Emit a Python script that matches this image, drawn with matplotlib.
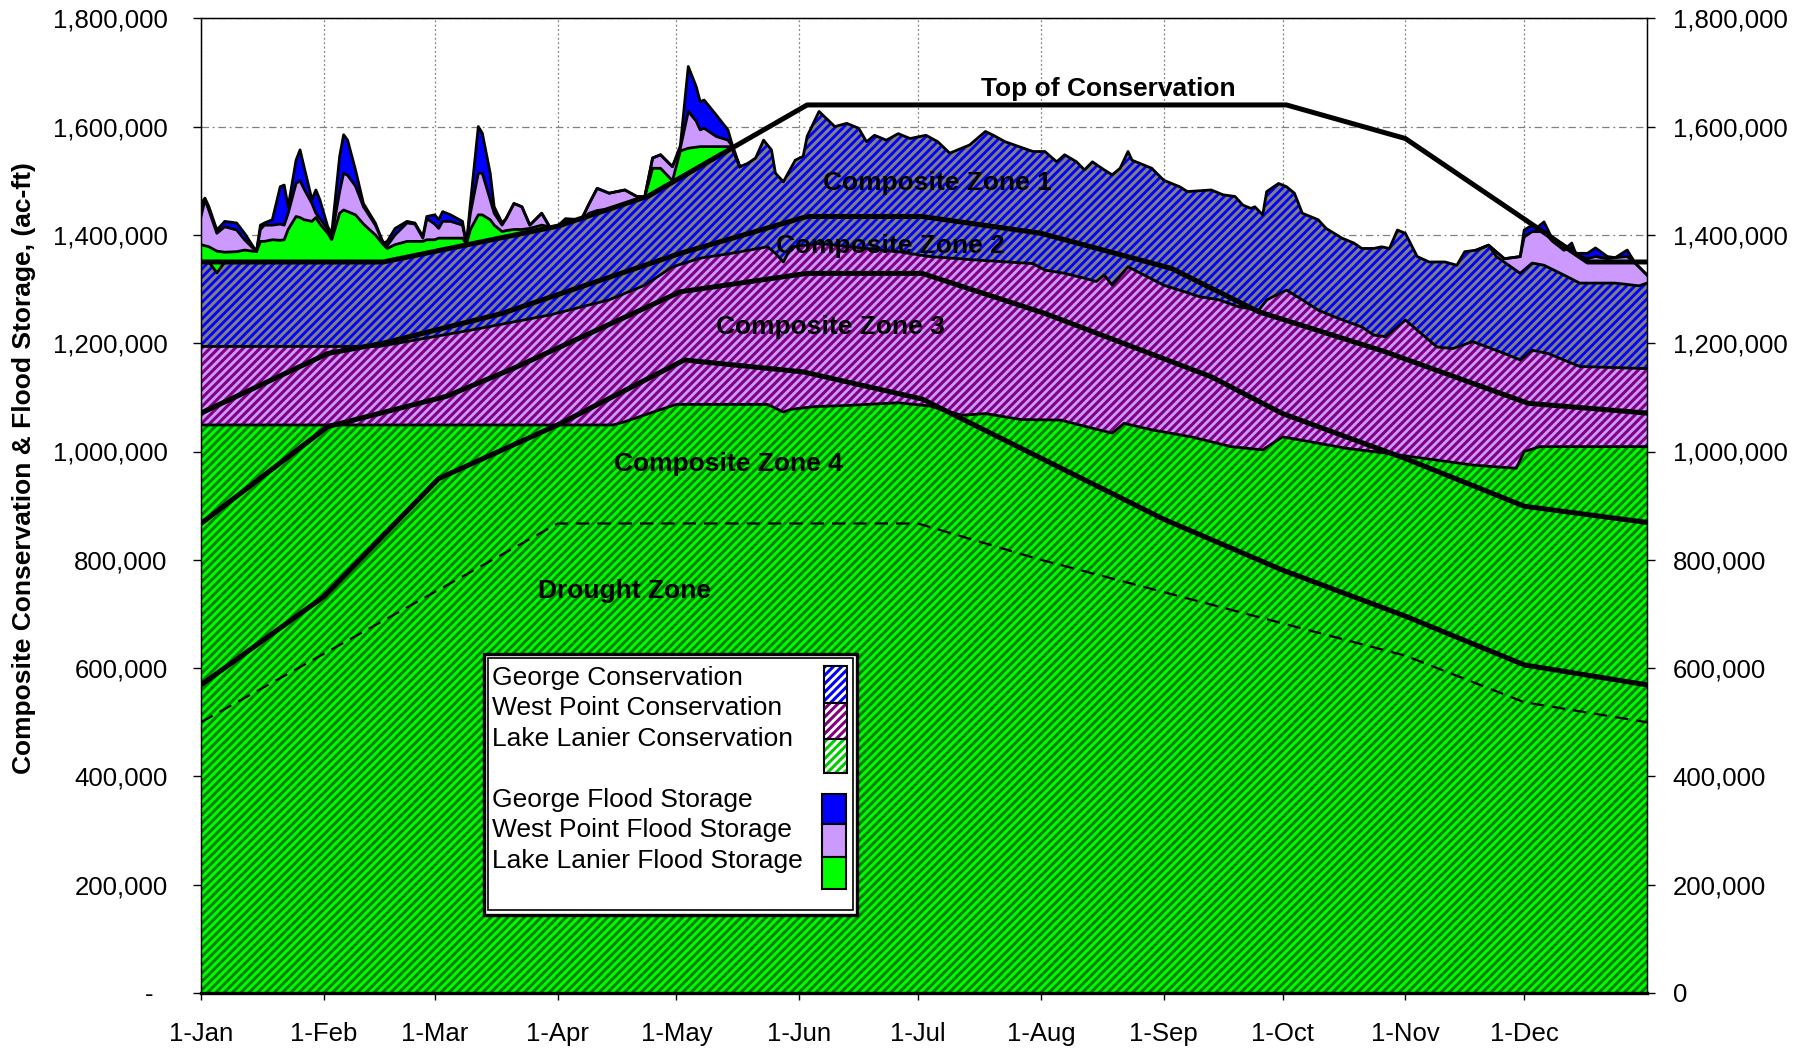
# -*- coding:utf-8 -*-
"""
Composite conservation & flood storage (George, West Point, Lake Lanier)
with rule-curve zones, drawn with matplotlib
"""
import numpy as np
import matplotlib

matplotlib.use("Agg")
import matplotlib.pyplot as plt
from matplotlib.patches import Rectangle

plt.rcParams["font.family"] = ["Liberation Sans", "DejaVu Sans"]
plt.rcParams["hatch.linewidth"] = 2.2

W, H = 1812, 1051

# x = day of year (1-Jan = 0), storage values in 1000 ac-ft
month_days = [0, 31, 59, 90, 120, 151, 181, 212, 243, 273, 304, 334]
month_labels = ["1-Jan", "1-Feb", "1-Mar", "1-Apr", "1-May", "1-Jun",
                "1-Jul", "1-Aug", "1-Sep", "1-Oct", "1-Nov", "1-Dec"]
y_ticks = [0, 200, 400, 600, 800, 1000, 1200, 1400, 1600, 1800]

# conservation storage, stacked tops
lanier_cons_days = [0, 104, 107, 115, 120, 143, 147, 149, 155, 163, 176, 184, 192, 198, 207,
                    217, 225, 230, 233, 240, 250, 260, 268, 273, 280, 289, 299, 309, 321, 332,
                    334, 338, 365]
lanier_cons_top = [1049, 1049, 1055, 1075, 1087, 1087, 1073, 1078, 1083, 1085, 1090, 1084, 1067,
                   1070, 1059, 1058, 1043, 1034, 1052, 1040, 1027, 1009, 1003, 1027, 1018, 1006,
                   997, 987, 975, 969, 1000, 1009, 1009]

wp_cons_days = [0, 45, 68, 88, 103, 112, 119, 126, 134, 143, 145, 147, 149, 156, 164, 176, 184,
                195, 210, 213, 218, 223, 226, 228, 230, 234, 238, 243, 247, 252, 257, 262, 267,
                269, 274, 278, 282, 287, 293, 296, 299, 304, 307, 312, 316, 321, 329, 333, 336,
                340, 348, 365]
wp_cons_top = [1194, 1194, 1224, 1252, 1280, 1307, 1341, 1357, 1366, 1378, 1366, 1350, 1378, 1384,
               1378, 1369, 1360, 1354, 1347, 1335, 1329, 1320, 1314, 1326, 1307, 1341, 1326, 1307,
               1298, 1286, 1280, 1267, 1261, 1280, 1298, 1280, 1261, 1246, 1230, 1215, 1212, 1243,
               1224, 1193, 1190, 1203, 1181, 1169, 1187, 1181, 1157, 1153]

george_cons_days = [0, 2, 4, 6, 46, 67, 90, 113, 134, 136, 138, 140, 142, 144, 145, 147, 150, 152,
                    153, 156, 160, 163, 166, 168, 170, 173, 176, 179, 183, 186, 189, 191, 194, 198,
                    200, 203, 210, 213, 216, 218, 221, 223, 225, 228, 230, 232, 234, 235, 240, 243,
                    247, 249, 255, 258, 261, 263, 265, 266, 268, 269, 272, 274, 276, 278, 282, 284,
                    288, 291, 293, 296, 298, 300, 302, 304, 307, 310, 314, 317, 319, 322, 325, 327,
                    333, 336, 339, 344, 348, 357, 363, 365]
george_cons_top = [1350, 1350, 1330, 1350, 1350, 1382, 1416, 1472, 1560, 1526, 1532, 1542, 1575,
                   1557, 1514, 1498, 1538, 1545, 1582, 1628, 1600, 1606, 1597, 1572, 1584, 1575,
                   1587, 1578, 1584, 1572, 1551, 1557, 1566, 1591, 1584, 1572, 1554, 1554, 1535,
                   1548, 1535, 1520, 1535, 1520, 1511, 1523, 1554, 1538, 1523, 1501, 1489, 1480,
                   1483, 1474, 1471, 1455, 1449, 1452, 1437, 1480, 1495, 1489, 1477, 1440, 1428,
                   1412, 1394, 1385, 1375, 1375, 1378, 1375, 1409, 1403, 1360, 1350, 1350, 1344,
                   1369, 1372, 1381, 1360, 1329, 1348, 1344, 1326, 1311, 1311, 1306, 1311]

# flood storage (stacked tops), winter/spring
spring_days = [0, 1, 2, 4, 6, 9, 11, 14, 15, 16, 18, 20, 21, 22, 24, 25, 26, 28, 29, 30, 32, 33,
               35, 36, 37, 39, 41, 44, 46, 47, 49, 52, 54, 56, 57, 59, 60, 61, 63, 66, 67, 68, 70,
               71, 73, 74, 76, 77, 79, 81, 83, 86, 88, 90, 92, 96, 98, 100, 103, 107, 110, 112,
               114, 116, 119, 121, 123, 125, 126, 127, 130, 133, 134, 136]
lanier_flood_top = [1382, 1380, 1378, 1370, 1368, 1369, 1372, 1369, 1388, 1388, 1391, 1390, 1391,
                    1410, 1434, 1432, 1428, 1425, 1432, 1420, 1403, 1391, 1440, 1446, 1443, 1437,
                    1420, 1400, 1382, 1375, 1382, 1388, 1388, 1388, 1391, 1391, 1394, 1394, 1394,
                    1394, 1383, 1410, 1437, 1437, 1428, 1418, 1406, 1408, 1410, 1410, 1412, 1418,
                    1415, 1416, 1425, 1428, 1440, 1445, 1448, 1458, 1466, 1470, 1523, 1523, 1500,
                    1555, 1560, 1562, 1563, 1563, 1563, 1563, 1563, 1526]
wp_flood_top = [1434, 1465, 1445, 1403, 1415, 1409, 1391, 1369, 1410, 1418, 1418, 1420, 1418, 1440,
                1495, 1500, 1485, 1458, 1440, 1430, 1410, 1397, 1480, 1514, 1510, 1490, 1452, 1418,
                1385, 1380, 1400, 1422, 1420, 1394, 1430, 1420, 1412, 1425, 1425, 1418, 1383, 1440,
                1514, 1514, 1465, 1440, 1418, 1430, 1458, 1452, 1418, 1440, 1415, 1416, 1428, 1428,
                1458, 1486, 1477, 1483, 1471, 1470, 1542, 1548, 1526, 1560, 1628, 1610, 1594, 1597,
                1582, 1575, 1565, 1526]
george_flood_top = [1458, 1468, 1452, 1409, 1425, 1422, 1403, 1369, 1418, 1422, 1428, 1489, 1492,
                    1452, 1538, 1557, 1526, 1465, 1483, 1465, 1415, 1403, 1545, 1585, 1575, 1520,
                    1458, 1422, 1385, 1388, 1412, 1425, 1422, 1397, 1434, 1437, 1428, 1443, 1437,
                    1425, 1383, 1458, 1600, 1588, 1514, 1452, 1422, 1430, 1458, 1452, 1418, 1440,
                    1415, 1416, 1430, 1428, 1458, 1486, 1477, 1483, 1471, 1470, 1542, 1548, 1526,
                    1565, 1711, 1674, 1646, 1649, 1622, 1594, 1569, 1526]

# flood storage (stacked tops), December
dec_days = [322, 325, 329, 333, 334, 336, 337, 339, 341, 344, 346, 347, 350, 352, 355, 357, 360,
            362, 365]
wp_flood_dec = [1372, 1381, 1356, 1360, 1396, 1406, 1406, 1406, 1389, 1372, 1375, 1363, 1356, 1360,
                1356, 1358, 1360, 1348, 1326]
george_flood_dec = [1372, 1381, 1356, 1360, 1409, 1418, 1412, 1424, 1394, 1372, 1385, 1366, 1366,
                    1376, 1360, 1358, 1372, 1348, 1326]

# rule curves
toc_days = [0, 46, 90, 113, 153, 274, 304, 350, 365]
toc = [1350, 1350, 1416, 1472, 1640, 1640, 1578, 1350, 1350]
zone1_days = [0, 32, 46, 76, 121, 153, 182, 212, 245, 267, 299, 335, 365]
zone1_bottom = [1071, 1181, 1200, 1255, 1366, 1434, 1434, 1403, 1338, 1258, 1184, 1089, 1071]
zone2_days = [0, 32, 62, 79, 121, 153, 182, 213, 255, 273, 304, 334, 365]
zone2_bottom = [867, 1046, 1102, 1154, 1295, 1329, 1329, 1255, 1138, 1070, 987, 899, 869]
zone3_days = [0, 31, 60, 90, 122, 152, 182, 243, 273, 304, 334, 365]
zone3_bottom = [569, 732, 950, 1049, 1169, 1147, 1097, 875, 781, 696, 606, 569]
drought_days = [0, 90, 181, 212, 304, 334, 365]
drought = [500, 867, 867, 800, 623, 537, 500]

zone_labels = ["Top of Conservation", "Composite Zone 1", "Composite Zone 2",
               "Composite Zone 3", "Composite Zone 4", "Drought Zone"]
zone_label_day = [229, 186, 174, 159, 133, 107]
zone_label_val = [1670, 1496, 1379, 1230, 976, 742]

legend_labels = ["George Conservation", "West Point Conservation", "Lake Lanier Conservation",
                 "George Flood Storage", "West Point Flood Storage", "Lake Lanier Flood Storage"]

BLUE, LILAC, GREEN = "#0000FF", "#CC99FF", "#00FF00"


def kv(values):
    return np.array(values, dtype=float) * 1000


def fmt_left(v):
    return "-  " if v == 0 else f"{v * 1000:,}"


def fmt_right(v):
    return "0" if v == 0 else f"{v * 1000:,}"


def plot_storage():
    fig = plt.figure(figsize=(W / 100, H / 100), dpi=100)
    ax = fig.add_axes([201 / W, 1 - 993 / H, 1446 / W, 974.7 / H])

    # flood storage first, conservation hatches are painted over it
    ax.fill_between(spring_days, 0, kv(george_flood_top), color=BLUE, linewidth=0, zorder=1)
    ax.fill_between(dec_days, 0, kv(george_flood_dec), color=BLUE, linewidth=0, zorder=1)
    ax.fill_between(spring_days, 0, kv(wp_flood_top), color=LILAC, linewidth=0, zorder=1.1)
    ax.fill_between(dec_days, 0, kv(wp_flood_dec), color=LILAC, linewidth=0, zorder=1.1)
    ax.fill_between(spring_days, 0, kv(lanier_flood_top), color=GREEN, linewidth=0, zorder=1.2)

    ax.fill_between(george_cons_days, 0, kv(george_cons_top), facecolor=BLUE,
                    edgecolor="#808080", hatch="////", linewidth=0, zorder=1.3)
    ax.fill_between(wp_cons_days, 0, kv(wp_cons_top), facecolor=LILAC,
                    edgecolor="#800080", hatch="////", linewidth=0, zorder=1.4)
    ax.fill_between(lanier_cons_days, 0, kv(lanier_cons_top), facecolor=GREEN,
                    edgecolor="#008000", hatch="////", linewidth=0, zorder=1.5)

    outlines = [
        (spring_days, george_flood_top), (dec_days, george_flood_dec),
        (spring_days, wp_flood_top), (dec_days, wp_flood_dec),
        (spring_days, lanier_flood_top), (george_cons_days, george_cons_top),
        (wp_cons_days, wp_cons_top), (lanier_cons_days, lanier_cons_top),
    ]
    for d, v in outlines:
        ax.plot(d, kv(v), color="black", lw=2, zorder=2, solid_joinstyle="round")

    for d, v in [(toc_days, toc), (zone1_days, zone1_bottom),
                 (zone2_days, zone2_bottom), (zone3_days, zone3_bottom)]:
        ax.plot(d, kv(v), color="black", lw=3.6, zorder=3, solid_joinstyle="round")
    ax.plot(drought_days, kv(drought), color="black", lw=1.6, zorder=3,
            linestyle=(0, (6, 3.6)))

    for lab, d, v in zip(zone_labels, zone_label_day, zone_label_val):
        ax.text(d, v * 1000, lab, ha="center", va="center", fontsize=19,
                fontweight="bold", zorder=5)

    ax.set_xlim(0, 365)
    ax.set_ylim(0, 1800000)
    ax.set_axisbelow(True)
    ax.xaxis.grid(True, color="#808080", lw=0.9, linestyle=(0, (1.5, 2)))
    ax.yaxis.grid(True, color="#808080", lw=0.9, linestyle=(0, (6, 3, 1.5, 3)))

    ax.set_xticks(month_days)
    ax.set_xticklabels(month_labels)
    ax.set_yticks(kv(y_ticks))
    ax.set_yticklabels([fmt_left(v) for v in y_ticks])
    ax.tick_params(axis="x", direction="out", length=5, width=1, pad=16, labelsize=18.5)
    ax.tick_params(axis="y", direction="out", length=6, width=1, pad=18, labelsize=18.5)
    for side in ["top", "left", "right"]:
        ax.spines[side].set_linewidth(1)
    ax.spines["bottom"].set_linewidth(2.4)

    ax2 = ax.twinx()
    ax2.set_ylim(0, 1800000)
    ax2.set_yticks(kv(y_ticks))
    ax2.set_yticklabels([fmt_right(v) for v in y_ticks])
    ax2.tick_params(axis="y", direction="out", length=6, width=1, pad=12.5, labelsize=18.5)

    fig.text(24 / W, 1 - 468 / H, "Composite Conservation & Flood Storage, (ac-ft)",
             rotation=90, ha="center", va="center", fontsize=19, fontweight="bold")

    # legend box, laid out in pixel units
    lg = fig.add_axes([482 / W, 1 - 916 / H, 376 / W, 263 / H])
    lg.set_xlim(482, 858)
    lg.set_ylim(916, 653)
    lg.axis("off")
    lg.add_patch(Rectangle((483.5, 654.5), 373, 260, facecolor="white", edgecolor="black",
                           lw=2.4, clip_on=False))
    lg.add_patch(Rectangle((487.5, 658.5), 365, 251, fill=False, edgecolor="black",
                           lw=1.2, clip_on=False))
    text_y = [678, 708, 739, 800, 830, 861]
    for lab, ty in zip(legend_labels, text_y):
        lg.text(491.5, ty, lab, ha="left", va="center", fontsize=19)

    cons_swatch = [(666, 703, BLUE), (703, 739, "#800080"), (739, 773, "#00CC00")]
    for y0, y1, c in cons_swatch:
        lg.add_patch(Rectangle((824, y0), 23.5, y1 - y0, facecolor="white", edgecolor=c,
                               hatch="////", lw=0))
        lg.add_patch(Rectangle((824, y0), 23.5, y1 - y0, fill=False, edgecolor="black", lw=1.5))
    flood_swatch = [(794, 824, BLUE), (824, 857, LILAC), (857, 889, GREEN)]
    for y0, y1, c in flood_swatch:
        lg.add_patch(Rectangle((822.5, y0), 23.5, y1 - y0, facecolor=c, edgecolor="black", lw=1.5))

    fig.savefig("out.png", dpi=100)


if __name__ == "__main__":
    plot_storage()
